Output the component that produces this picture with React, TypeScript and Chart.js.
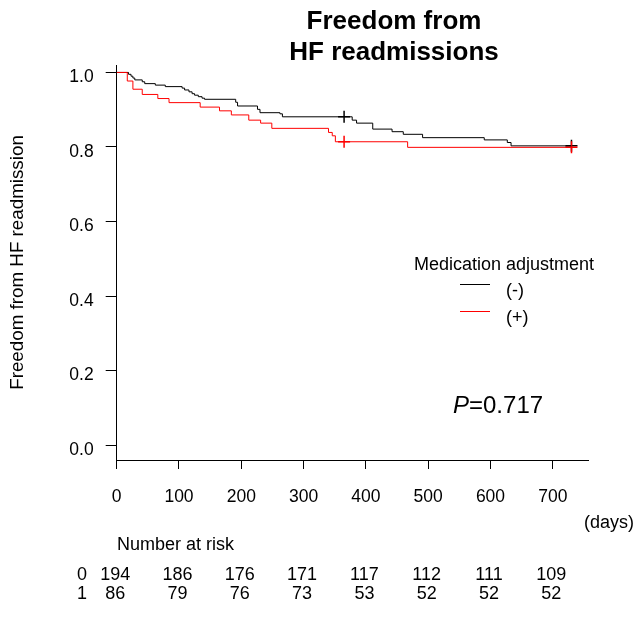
import React, { useEffect, useRef } from "react";
import { Chart, registerables } from "chart.js";

Chart.register(...registerables);

// ---- Data ----
const blackDays = [0, 19, 23, 26, 29, 41, 45, 62, 78, 105, 109, 116, 121, 125, 131, 137, 141, 191, 194, 226, 230, 262, 266, 378, 385, 411, 442, 460, 491, 590, 627, 633, 730];
const blackSurv = [1, 0.995, 0.990, 0.985, 0.980, 0.975, 0.970, 0.966, 0.962, 0.958, 0.953, 0.948, 0.943, 0.939, 0.935, 0.931, 0.928, 0.920, 0.910, 0.901, 0.892, 0.889, 0.881, 0.872, 0.864, 0.848, 0.841, 0.834, 0.825, 0.819, 0.812, 0.803, 0.803];

const redDays = [0, 17, 26, 41, 66, 84, 134, 165, 184, 212, 231, 249, 340, 346, 351, 467, 730];
const redSurv = [1, 0.977, 0.955, 0.941, 0.930, 0.919, 0.907, 0.897, 0.886, 0.872, 0.864, 0.850, 0.839, 0.830, 0.814, 0.799, 0.799];

const censorBlackDays = [365, 730];
const censorBlackSurv = [0.881, 0.803];
const censorRedDays = [365, 730];
const censorRedSurv = [0.814, 0.799];

const xTicks = [0, 100, 200, 300, 400, 500, 600, 700];
const yTicks = [0, 0.2, 0.4, 0.6, 0.8, 1.0];

const riskTimes = [0, 100, 200, 300, 400, 500, 600, 700];
const riskGroup0 = [194, 186, 176, 171, 117, 112, 111, 109];
const riskGroup1 = [86, 79, 76, 73, 53, 52, 52, 52];
const groupLabels = ["0", "1"];

const titleLines = ["Freedom from", "HF readmissions"];
const legendTitle = "Medication adjustment";
const legendLabels = ["(-)", "(+)"];
const seriesColors = ["#000000", "#ff0000"];

const FONT = "'Liberation Sans', Arial, Helvetica, sans-serif";

const toPts = (xs: number[], ys: number[]) => xs.map((x, i) => ({ x, y: ys[i] }));

const extrasPlugin = {
  id: "extras",
  afterDraw(chart: any) {
    const ctx = chart.ctx as CanvasRenderingContext2D;
    const xs = chart.scales.x;
    ctx.save();
    ctx.fillStyle = "#000";
    ctx.textBaseline = "alphabetic";

    // Title
    ctx.font = `bold 26px ${FONT}`;
    ctx.textAlign = "center";
    ctx.fillText(titleLines[0], 394, 29);
    ctx.fillText(titleLines[1], 394, 60);

    // Legend
    ctx.font = `18px ${FONT}`;
    ctx.textAlign = "left";
    ctx.fillText(legendTitle, 414, 270);
    const ly = [284.5, 311.5];
    const ty = [296, 323];
    for (let i = 0; i < 2; i++) {
      ctx.strokeStyle = seriesColors[i];
      ctx.lineWidth = 1;
      ctx.beginPath();
      ctx.moveTo(460, ly[i]);
      ctx.lineTo(490, ly[i]);
      ctx.stroke();
      ctx.fillText(legendLabels[i], 506, ty[i]);
    }

    // P value
    ctx.font = `italic 24px ${FONT}`;
    const pw = ctx.measureText("P").width;
    ctx.fillText("P", 453, 413);
    ctx.font = `24px ${FONT}`;
    ctx.fillText("=0.717", 453 + pw, 413);

    // (days)
    ctx.font = `18px ${FONT}`;
    ctx.fillText("(days)", 584, 528);

    // Number at risk
    ctx.fillText("Number at risk", 117, 550);

    ctx.textAlign = "center";
    const rows = [riskGroup0, riskGroup1];
    const ry = [580, 599];
    for (let r = 0; r < 2; r++) {
      ctx.fillText(groupLabels[r], 82, ry[r]);
      rows[r].forEach((n, i) => {
        const px = xs.getPixelForValue(riskTimes[i]) - 1.5;
        ctx.fillText(String(n), px, ry[r]);
      });
    }
    ctx.restore();
  },
};

export default function App() {
  const ref = useRef<HTMLCanvasElement | null>(null);

  useEffect(() => {
    if (!ref.current) return;
    Chart.defaults.font.family = FONT;
    Chart.defaults.color = "#000";
    const chart = new Chart(ref.current, {
      type: "line",
      data: {
        datasets: [
          {
            data: toPts(redDays, redSurv),
            borderColor: seriesColors[1],
            borderWidth: 1,
            pointRadius: 0,
            stepped: "before",
            fill: false,
          },
          {
            data: toPts(blackDays, blackSurv),
            borderColor: seriesColors[0],
            borderWidth: 1,
            pointRadius: 0,
            stepped: "before",
            fill: false,
          },
          {
            data: toPts(censorRedDays, censorRedSurv),
            showLine: false,
            pointStyle: "cross",
            pointRadius: 6,
            pointBorderWidth: 1.5,
            pointBorderColor: seriesColors[1],
            borderColor: seriesColors[1],
          },
          {
            data: toPts(censorBlackDays, censorBlackSurv),
            showLine: false,
            pointStyle: "cross",
            pointRadius: 6,
            pointBorderWidth: 1.5,
            pointBorderColor: seriesColors[0],
            borderColor: seriesColors[0],
          },
        ] as any,
      },
      options: {
        responsive: false,
        animation: false,
        events: [],
        layout: { padding: { top: 65, right: 47.7, left: 0, bottom: 0 } },
        plugins: {
          legend: { display: false },
          tooltip: { enabled: false },
          title: { display: false },
        },
        scales: {
          x: {
            type: "linear",
            min: 0,
            max: 757,
            afterBuildTicks: (s: any) => {
              s.ticks = xTicks.map((v) => ({ value: v }));
            },
            afterFit: (s: any) => {
              s.height = 161;
            },
            ticks: {
              autoSkip: false,
              maxRotation: 0,
              padding: 18,
              font: { size: 17.5 },
              color: "#000",
              callback: (v: any) => String(v),
            },
            grid: {
              display: true,
              drawOnChartArea: false,
              drawTicks: true,
              tickLength: 9,
              tickColor: "#000",
              color: "#000",
            },
            border: { display: true, color: "#000", width: 1 },
          },
          y: {
            type: "linear",
            min: -0.04,
            max: 1.02,
            afterBuildTicks: (s: any) => {
              s.ticks = yTicks.map((v) => ({ value: v }));
            },
            afterFit: (s: any) => {
              s.width = 116.7;
            },
            ticks: {
              padding: 12,
              font: { size: 17.5, lineHeight: 0.55 },
              color: "#000",
              callback: (v: any) => ["", Number(v).toFixed(1)],
            },
            grid: {
              display: true,
              drawOnChartArea: false,
              drawTicks: true,
              tickLength: 11,
              tickColor: "#000",
              color: "#000",
            },
            border: { display: true, color: "#000", width: 1 },
            title: {
              display: true,
              text: "Freedom from HF readmission",
              font: { size: 18.8 },
              color: "#000",
              padding: { top: 7, bottom: 0 },
            },
          },
        },
      } as any,
      plugins: [extrasPlugin],
    });
    return () => chart.destroy();
  }, []);

  return (
    <div style={{ position: "absolute", left: 0, top: 0, width: 636, height: 621, background: "#fff" }}>
      <canvas ref={ref} width={636} height={621} style={{ width: 636, height: 621 }} />
    </div>
  );
}
